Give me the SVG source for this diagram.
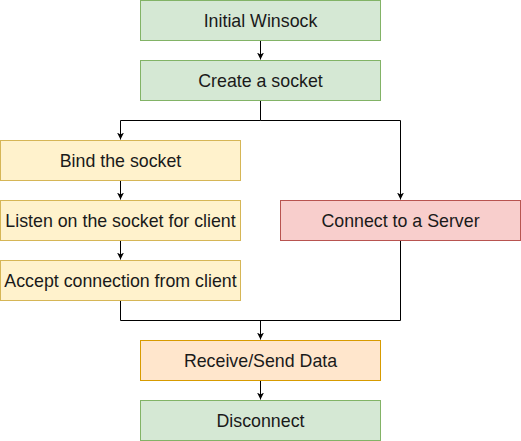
<svg xmlns="http://www.w3.org/2000/svg" width="521" height="441" viewBox="0 0 521 441">
<defs>
<marker id="arr" markerWidth="8" markerHeight="8" refX="7" refY="4" orient="auto" markerUnits="userSpaceOnUse">
<path d="M0,0.5 L7,4 L0,7.5 L2,4 Z" fill="#000"/>
</marker>
<style>
rect{stroke-width:1}
.g{fill:#d5e8d4;stroke:#82b366}
.y{fill:#fff2cc;stroke:#d6b656}
.r{fill:#f8cecc;stroke:#b85450}
.o{fill:#ffe6cc;stroke:#d79b00}
text{font-family:"Liberation Sans",Arial,sans-serif;font-size:17.8px;fill:#1a1a1a;text-anchor:middle;dominant-baseline:central}
.e{fill:none;stroke:#000;stroke-width:1}
</style>
</defs>
<g id="connectors">
<path class="e" d="M260.5,40.5 V59.5" marker-end="url(#arr)"/>
<path class="e" d="M260.5,100.5 V120.5 H120.5 V139.5" marker-end="url(#arr)"/>
<path class="e" d="M260.5,120.5 H400.5 V199.5" marker-end="url(#arr)"/>
<path class="e" d="M120.5,180.5 V199.5" marker-end="url(#arr)"/>
<path class="e" d="M120.5,240.5 V259.5" marker-end="url(#arr)"/>
<path class="e" d="M120.5,300.5 V320.5 H400.5 V240.5"/>
<path class="e" d="M260.5,320.5 V339.5" marker-end="url(#arr)"/>
<path class="e" d="M260.5,380.5 V399.5" marker-end="url(#arr)"/>
</g>
<g id="n1"><rect class="g" x="140.5" y="0.5" width="240" height="40"/><text x="260.5" y="20.5">Initial Winsock</text></g>
<g id="n2"><rect class="g" x="140.5" y="60.5" width="240" height="40"/><text x="260.5" y="80.5">Create a socket</text></g>
<g id="n3"><rect class="y" x="0.5" y="140.5" width="240" height="40"/><text x="120.5" y="160.5">Bind the socket</text></g>
<g id="n4"><rect class="y" x="0.5" y="200.5" width="240" height="40"/><text x="120.5" y="220.5">Listen on the socket for client</text></g>
<g id="n5"><rect class="y" x="0.5" y="260.5" width="240" height="40"/><text x="120.5" y="280.5">Accept connection from client</text></g>
<g id="n6"><rect class="r" x="280.5" y="200.5" width="240" height="40"/><text x="400.5" y="220.5">Connect to a Server</text></g>
<g id="n7"><rect class="o" x="140.5" y="340.5" width="240" height="40"/><text x="260.5" y="360.5">Receive/Send Data</text></g>
<g id="n8"><rect class="g" x="140.5" y="400.5" width="240" height="40"/><text x="260.5" y="420.5">Disconnect</text></g>
</svg>
